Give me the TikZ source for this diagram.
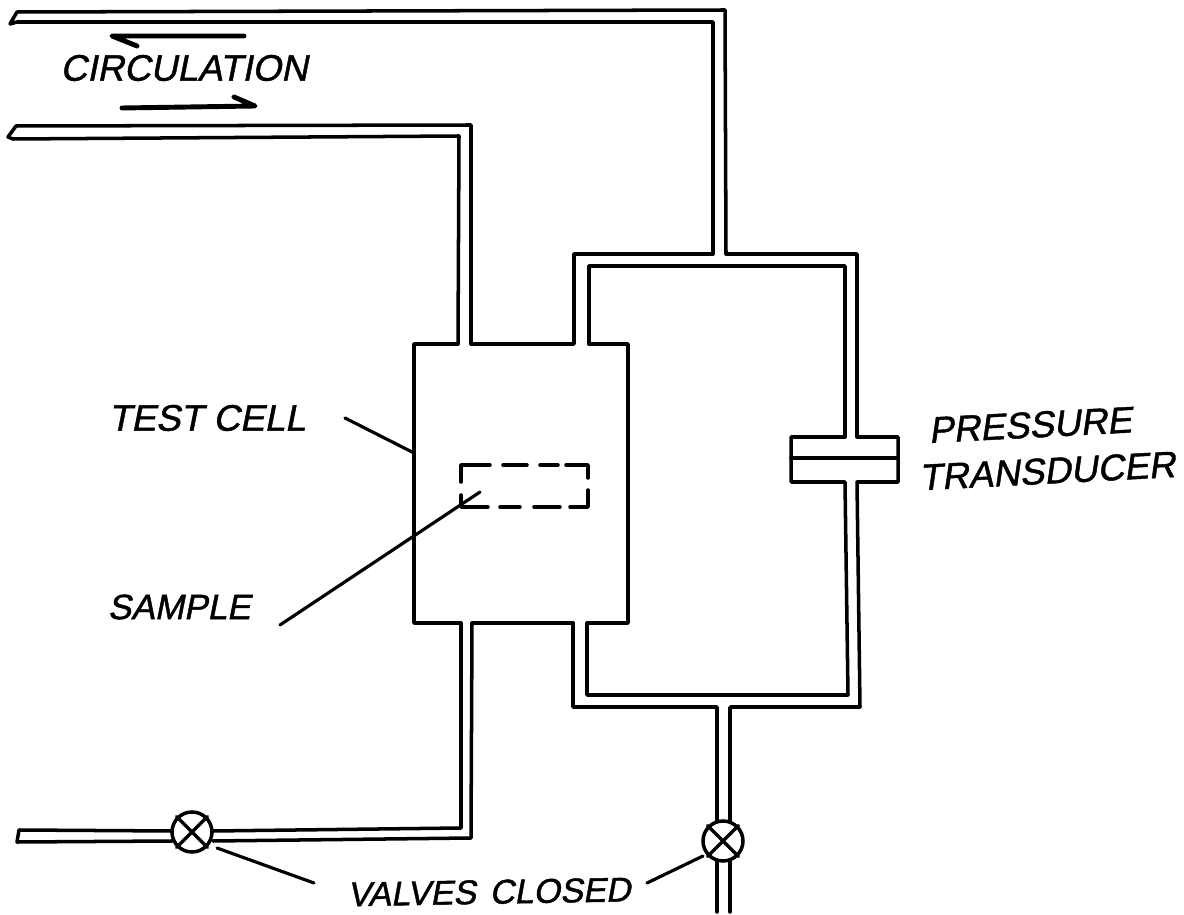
\documentclass[tikz,border=0pt]{standalone}
\usepackage{fontspec}
\newfontfamily\handfont[FakeSlant=0.2,FakeBold=1.2]{Liberation Sans}
\tikzset{
  pipe/.style={line width=2pt, line join=round, line cap=round},
  leader/.style={line width=1.8pt, line cap=round},
  flow/.style={line width=2.8pt, line cap=round, line join=round},
  lbl/.style={font=\handfont\fontsize{21}{24}\selectfont, inner sep=0pt},
  valve/.style={circle, draw, line width=2pt, fill=white, minimum size=0.8cm, inner sep=0pt}
}
\begin{document}
\begin{tikzpicture}[x=0.02cm, y=-0.02cm]
\fill[white] (0,0) rectangle (1184,915);
\useasboundingbox (0,0) rectangle (1184,915);

% circulation line, top
\draw[pipe] (713,254)--(713,22)--(17,22)--(10,24)--(17,12)--(725,10)--(726,254);
\draw[pipe] (471,344)--(471,125)--(16,126)--(8,137)--(13,139)--(459,136)--(458,344);
\draw[flow] (244,36)--(112,36)--(137,46);
\draw[flow] (122,108)--(255,106)--(234,97);
\node[lbl] (circ) at (184,68) {CIRCULATION};

% test cell
\draw[pipe] (458,344)--(414,344)--(414,623)--(461,623);
\draw[pipe] (471,344)--(574,344)--(574,254)--(713,254);
\draw[pipe] (726,254)--(857,254)--(857,437);
\draw[pipe] (589,344)--(628,344)--(628,623)--(587,623);
\draw[pipe] (589,344)--(589,266)--(845,266)--(845,437);
\draw[pipe] (472,623)--(573,623);
% sample, dashes drawn by hand
\draw[pipe] (461,482)--(461,465)--(490,465) (503,465)--(527,465) (540,465)--(558,465) (566,465)--(588,465)--(588,478);
\draw[pipe] (588,490)--(588,507)--(570,507) (560,507)--(534,507) (520,507)--(500,507) (488,507)--(461,507)--(461,495);
\node[lbl] (cell) at (207,418) {TEST CELL};
\draw[leader] (345,418)--(414,453);
\node[lbl, font=\handfont\fontsize{20}{24}\selectfont] (sample) at (179,607) {SAMPLE};
\draw[leader] (280,625)--(480,492);

% transducer
\draw[pipe] (845,437)--(791,437)--(791,482)--(845,482)--(848,695)--(587,695)--(587,623);
\draw[pipe] (857,437)--(898,437)--(898,482)--(857,482)--(860,707)--(730,707)--(730,822);
\draw[pipe] (791,458)--(898,458);
\draw[pipe] (573,623)--(573,707)--(717,707)--(717,822);
\node[lbl, rotate=3] (press) at (1030,425) {PRESSURE};
\node[lbl, rotate=3] (trans) at (1047,471) {TRANSDUCER};

% lines with the valves
\draw[pipe] (461,623)--(461,828)--(213,831);
\draw[pipe] (472,623)--(471,838)--(213,841);
\draw[pipe] (172,831)--(19,830)--(17,842)--(172,841);
\draw[pipe] (717,860)--(717,912);
\draw[pipe] (730,860)--(730,912);
\node[valve] (vleft) at (192,832) {};
\node[valve] (vright) at (723,841) {};
\foreach \v in {vleft,vright} {
  \draw[pipe] (\v.north west)--(\v.south east);
  \draw[pipe] (\v.north east)--(\v.south west);
}
\node[lbl, font=\handfont\fontsize{19.5}{24}\selectfont, rotate=1] (closed) at (489,892) {VALVES\hspace{0.4em}CLOSED};
\coordinate (vltip) at (217,848);
\coordinate (vrtip) at (703,856);
\draw[leader] (vltip)--(314,883);
\draw[leader] (vrtip)--(647,883);
\end{tikzpicture}
\end{document}
